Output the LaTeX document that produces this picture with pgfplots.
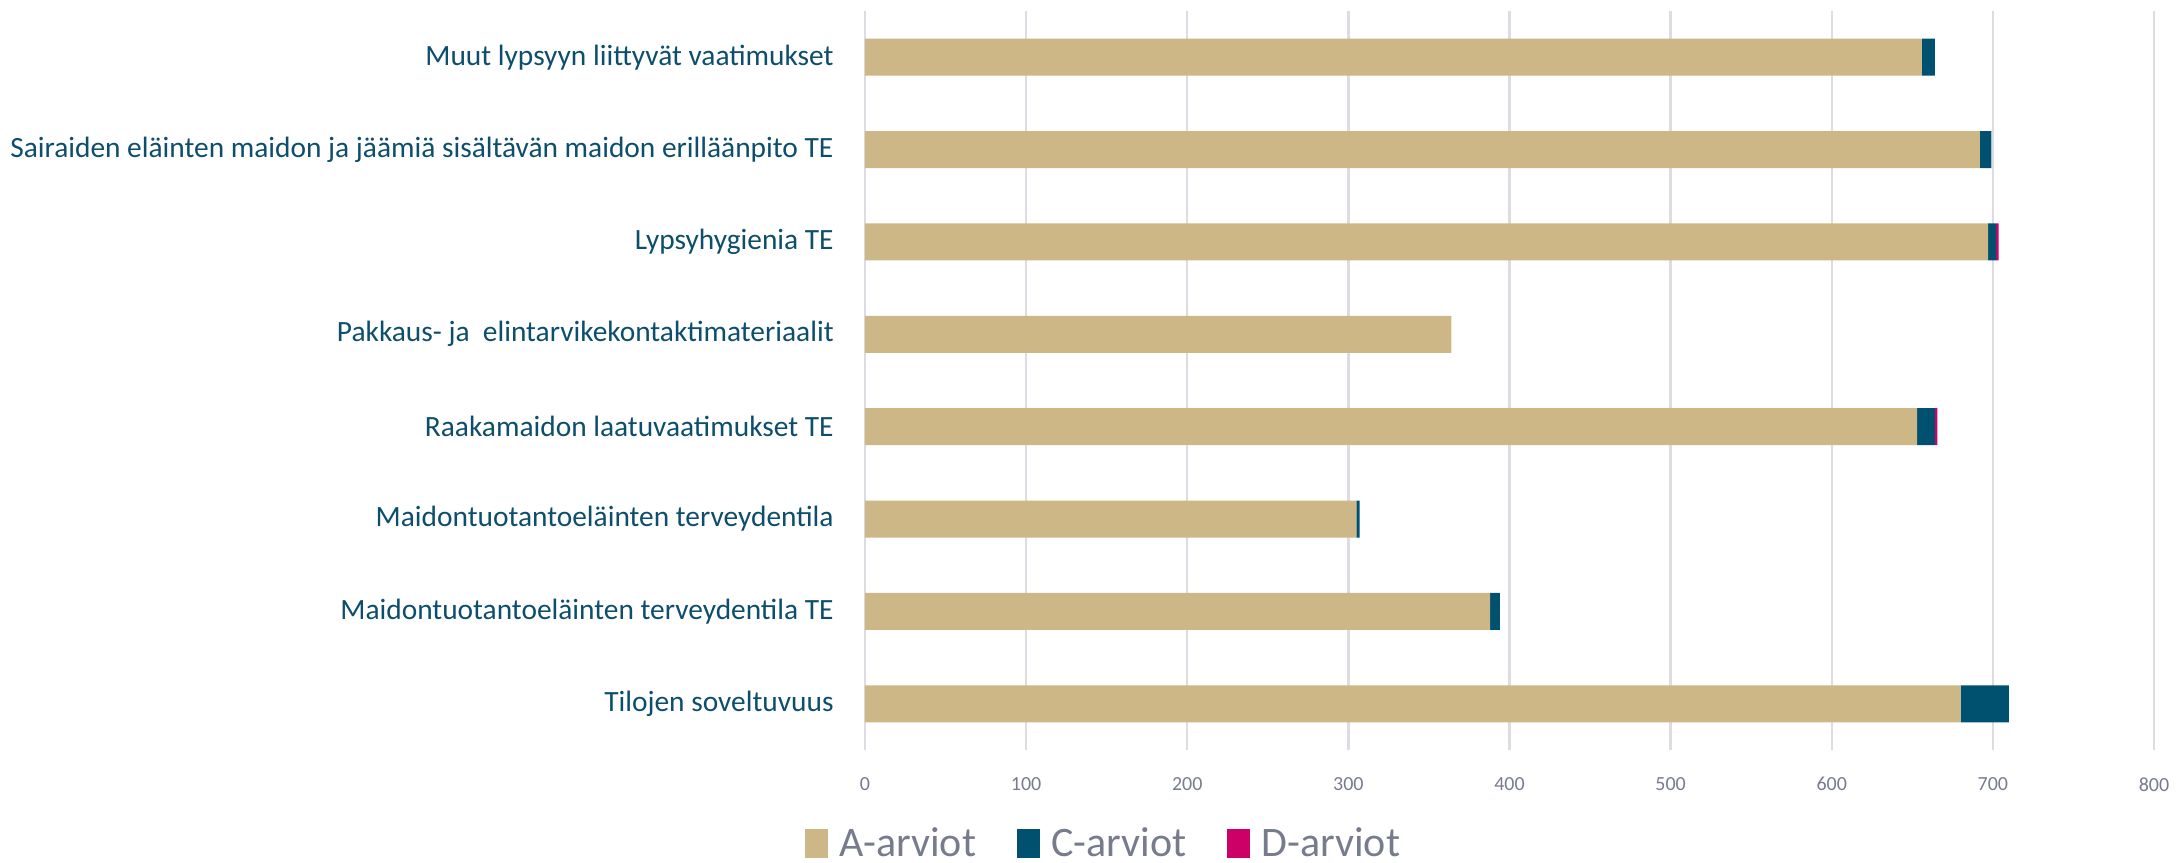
\documentclass[border=0pt]{standalone}
\usepackage{pgfplots}
\pgfplotsset{compat=1.18}
\usepackage{fontspec}
\setmainfont{Carlito}
\usetikzlibrary{calc}
\definecolor{cA}{HTML}{CDB787}
\definecolor{cC}{HTML}{005070}
\definecolor{cD}{HTML}{CC0066}
\definecolor{lab}{HTML}{0D4E6C}
\definecolor{tck}{HTML}{767C8C}
\definecolor{grd}{HTML}{DCDCE2}
\begin{document}
\begin{tikzpicture}
\begin{axis}[
  scale only axis,
  width=644.5pt, height=369.5pt,
  xbar stacked,
  bar width=0.4,
  xmin=0, xmax=800,
  ymin=-0.5, ymax=7.5,
  xtick={0,100,...,800},
  ytick={0,...,7},
  yticklabels={Tilojen soveltuvuus,
    Maidontuotantoeläinten terveydentila TE,
    Maidontuotantoeläinten terveydentila,
    Raakamaidon laatuvaatimukset TE,
    Pakkaus- ja\ \ elintarvikekontaktimateriaalit,
    Lypsyhygienia TE,
    Sairaiden eläinten maidon ja jäämiä sisältävän maidon erilläänpito TE,
    Muut lypsyyn liittyvät vaatimukset},
  axis line style={draw=none},
  major tick length=0pt,
  xmajorgrids, grid style={grd, line width=1.2pt},
  /pgf/number format/assume math mode=true,
  xticklabel style={font=\fontsize{10}{12}\selectfont, text=tck, inner sep=0pt, yshift=-13.5pt},
  yticklabel style={font=\fontsize{14.7}{17}\selectfont, text=lab, inner sep=0pt, xshift=-15.5pt},
  legend style={at={(rel axis cs:0.186,-0.126)}, anchor=center, draw=none, fill=none,
    legend columns=-1, font=\fontsize{21}{24}\selectfont\color{tck},
    /tikz/every odd column/.append style={column sep=3.5pt},
    /tikz/every even column/.append style={column sep=18.5pt}},
  legend image code/.code={\fill[#1] (0pt,-7.3pt) rectangle (11.5pt,7.3pt);},
]
\addplot[fill=cA, draw=none] coordinates {(680,0) (388,1) (305,2) (653,3) (364,4) (697,5) (692,6) (656,7)};
\addplot[fill=cC, draw=none] coordinates {(30,0) (6,1) (2,2) (11,3) (0,4) (5,5) (7,6) (8,7)};
\addplot[fill=cD, draw=none] coordinates {(0,0) (0,1) (0,2) (1.5,3) (0,4) (1.5,5) (0,6) (0,7)};
\legend{A-arviot, C-arviot, D-arviot}
\end{axis}
\pgfresetboundingbox
\useasboundingbox ($(current axis.south west)+(-432.5pt,-56.5pt)$) rectangle ($(current axis.north east)+(11.5pt,5.5pt)$);
\end{tikzpicture}
\end{document}
